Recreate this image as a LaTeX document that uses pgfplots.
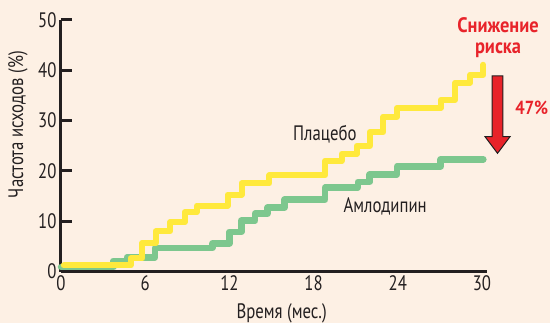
\documentclass[border=0pt]{standalone}
\usepackage{fontspec}
\setmainfont{PT Sans}[FakeStretch=0.8]
\newfontfamily\widefont{PT Sans}[FakeStretch=0.88]
\usepackage{pgfplots}
\pgfplotsset{compat=1.18}

\definecolor{bg}{HTML}{FDF0E4}
\definecolor{placebo}{HTML}{FFE93C}
\definecolor{amlo}{HTML}{7DC78E}
\definecolor{axisdark}{HTML}{231F20}
\definecolor{accent}{HTML}{E8232A}

% Cumulative event rate (%), step functions: value holds from t onwards
\pgfplotstableread{
t     y
0.20  1.2
4.97  2.6
5.80  5.7
6.75  8.0
7.77  9.8
8.82  11.8
9.67  13.1
11.88 15.3
12.88 17.5
14.85 19.1
18.82 22.0
20.00 23.4
21.08 25.0
22.00 27.7
22.97 30.8
23.95 32.5
27.06 34.1
28.08 37.5
29.15 39.1
30.10 41.1
}\placebodata

\pgfplotstableread{
t     y
0.00  0.9
3.73  2.1
4.70  2.8
6.70  4.7
10.80 5.6
12.00 7.9
12.85 10.1
13.83 11.5
14.72 12.7
15.93 14.3
18.82 16.7
21.15 17.8
22.00 19.3
23.95 20.9
27.06 22.3
30.10 22.3
}\amlodata

\begin{document}
\begin{tikzpicture}
\fill[bg] (-61bp,-51.5bp) rectangle (489bp,271.5bp);
\useasboundingbox (-61bp,-51.5bp) rectangle (489bp,271.5bp);
\begin{axis}[
  at={(0,0)}, anchor=south west,
  scale only axis,
  width=426bp, height=251.5bp,
  xmin=0, xmax=30.36, ymin=0, ymax=50,
  clip=false,
  axis x line*=bottom, axis y line*=left,
  axis line style={-, line width=3bp, axisdark},
  xtick={0,6,...,30}, ytick={0,10,...,50},
  xtick style={draw=none},
  ytick style={line width=3bp, axisdark},
  tick align=inside,
  major tick length=11bp,
  /pgf/number format/assume math mode=true,
  tick label style={font=\fontsize{21}{24}\selectfont, text=axisdark},
  yticklabel style={xshift=-1bp},
  xticklabel style={yshift=-1bp},
  label style={font=\fontsize{21}{24}\selectfont, text=axisdark},
  xlabel={Время (мес.)},
  ylabel={Частота исходов (\%)},
  xlabel style={at={(axis description cs:0.518,-0.166)}, anchor=center},
  ylabel style={at={(axis description cs:-0.101,0.584)}, anchor=center},
]
\addplot[const plot, color=amlo, line width=6.5bp, line cap=round, line join=round]
  table[x=t, y=y] {\amlodata};
\addplot[const plot, color=placebo, line width=6bp, line cap=round, line join=round]
  table[x=t, y=y] {\placebodata};

\node[font=\fontsize{21}{24}\selectfont, text=axisdark] at (axis cs:18.8,27.3) {Плацебо};
\node[font=\fontsize{21}{24}\selectfont, text=axisdark] at (axis cs:23.1,12.9) {Амлодипин};

% risk reduction arrow
\draw[draw=axisdark, line width=1bp, fill=accent, line join=miter]
  (axis cs:30.73,38.9) -- (axis cs:31.49,38.9) -- (axis cs:31.49,26.8)
  -- (axis cs:32.0,26.8) -- (axis cs:31.11,23.5) -- (axis cs:30.22,26.8)
  -- (axis cs:30.73,26.8) -- cycle;
\node[text=accent, font=\widefont\bfseries\fontsize{21}{21.6}\selectfont, align=center]
  at (axis cs:31.15,46.5) {Снижение\\риска};
\node[text=accent, font=\widefont\bfseries\fontsize{19}{21}\selectfont]
  at (axis cs:33.55,32.5) {47\%};
\end{axis}
\end{tikzpicture}
\end{document}
